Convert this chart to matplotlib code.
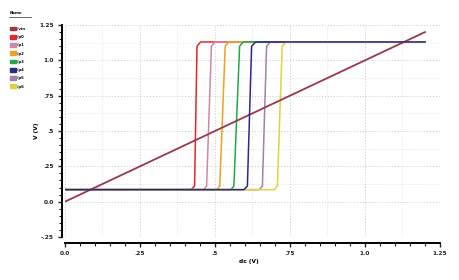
import matplotlib
matplotlib.use("Agg")
import matplotlib.pyplot as plt
import matplotlib.patches as mpatches
from matplotlib.lines import Line2D
from matplotlib.ticker import MultipleLocator

# sweep input (dc) vs output voltage
ramp_x = [0.0, 1.2]
ramp_y = [0.0, 1.2]

names = ["/vin", "/p0", "/p1", "/p2", "/p3", "/p4", "/p5", "/p6"]
colors = ["#9a3848", "#e02a2a", "#c88aa8", "#f0a020", "#22a844", "#2c2a86", "#a47fa6", "#e2d23c"]

curve_x = [
    [0.0, 0.420, 0.432, 0.440, 0.452, 1.2],
    [0.0, 0.462, 0.472, 0.488, 0.500, 1.2],
    [0.0, 0.506, 0.516, 0.534, 0.546, 1.2],
    [0.0, 0.553, 0.563, 0.582, 0.594, 1.2],
    [0.0, 0.596, 0.608, 0.622, 0.636, 1.2],
    [0.0, 0.648, 0.658, 0.672, 0.684, 1.2],
    [0.0, 0.698, 0.708, 0.724, 0.736, 1.2],
]
curve_y = [0.085, 0.085, 0.11, 1.10, 1.13, 1.13]

xticks = [0, 0.25, 0.5, 0.75, 1.0, 1.25]
xtick_labels = ["0.0", ".25", ".5", ".75", "1.0", "1.25"]
yticks = [-0.25, 0, 0.25, 0.5, 0.75, 1.0, 1.25]
ytick_labels = ["-.25", "0.0", ".25", ".5", ".75", "1.0", "1.25"]

plt.rcParams["font.weight"] = "bold"

fig = plt.figure(figsize=(4.59, 2.8), dpi=100)
ax = fig.add_axes([0.1416, 0.1536, 0.8170, 0.7571])

ax.plot(ramp_x, ramp_y, color=colors[0], lw=1.3, zorder=4)
for i, xs in enumerate(curve_x):
    z = 5 if i == 4 else 3
    ax.plot(xs, curve_y, color=colors[i + 1], lw=1.1, zorder=z,
            solid_joinstyle="round")

ax.set_xlim(0, 1.25)
ax.set_ylim(-0.25, 1.25)
ax.set_xticks(xticks, xtick_labels)
ax.set_yticks(yticks, ytick_labels)
ax.xaxis.set_minor_locator(MultipleLocator(0.05))
ax.yaxis.set_minor_locator(MultipleLocator(0.05))

ax.tick_params(which="major", length=3, width=1, color="#222222", pad=3,
               labelsize=4.2, labelcolor="#222222")
ax.tick_params(which="minor", length=2, width=0.8, color="#222222")

for s in ["top", "right"]:
    ax.spines[s].set_visible(False)
ax.spines["left"].set_position(("outward", 2))
ax.spines["bottom"].set_position(("outward", 4))
ax.spines["left"].set_linewidth(1.4)
ax.spines["bottom"].set_linewidth(1.4)

ax.grid(True, which="major", color="#c8c8c8", ls=(0, (1, 2)), lw=0.7)
for v in [0.125, 0.375, 0.625, 0.875, 1.125]:
    ax.axvline(v, color="#dddddd", ls=(0, (1, 2)), lw=0.6, zorder=0)
    ax.axhline(v, color="#dddddd", ls=(0, (1, 2)), lw=0.6, zorder=0)

ax.set_xlabel("dc (V)", fontsize=4.2, fontweight="bold")
ax.xaxis.set_label_coords(0.49, -0.105)
ax.set_ylabel("V (V)", fontsize=4.2, fontweight="bold")
ax.yaxis.set_label_coords(-0.07, 0.5)

# legend header with underline, as in the waveform viewer
fig.text(0.02, 1 - 13 / 280, "Name", fontsize=2.8, fontweight="bold", va="center")
fig.add_artist(Line2D([0.02, 0.068], [1 - 17 / 280] * 2, color="#555555", lw=0.6))

handles = [mpatches.Patch(color=c, label=n) for c, n in zip(colors, names)]
leg = fig.legend(handles=handles, loc="upper left", bbox_to_anchor=(0.018, 1 - 25 / 280),
                 frameon=False, prop={"size": 2.8, "weight": "bold"},
                 handlelength=1.6, handleheight=1.1, handletextpad=0.3,
                 labelspacing=1.05, borderaxespad=0)

fig.savefig("out.png", dpi=100)
